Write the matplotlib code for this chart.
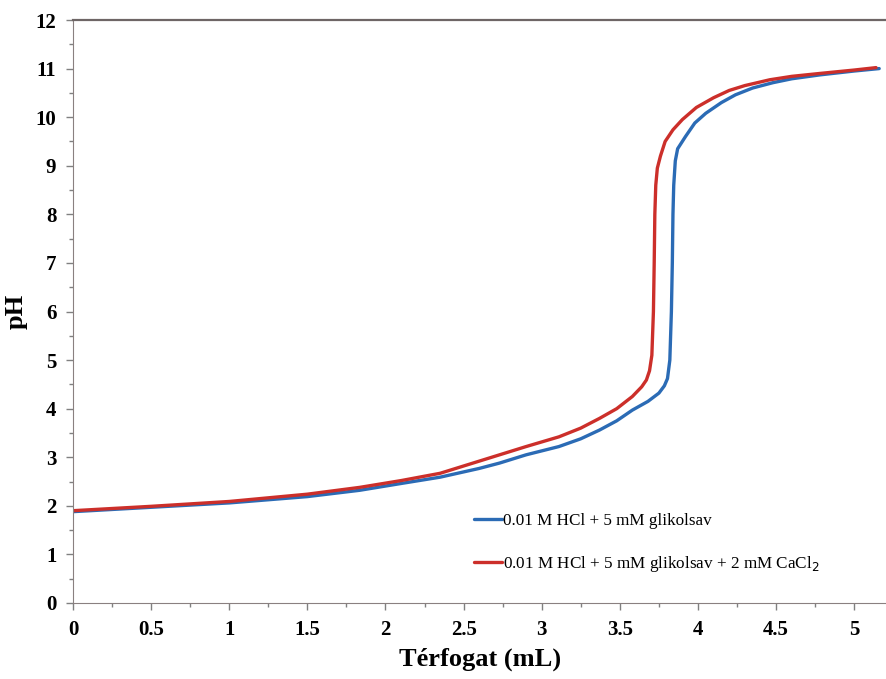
import matplotlib
matplotlib.use("Agg")
import matplotlib.pyplot as plt
from matplotlib.ticker import MultipleLocator

plt.rcParams['font.family'] = ['Liberation Serif', 'DejaVu Serif']

# Blue series: 0.01 M HCl + 5 mM glikolsav
blue_x = [0, 0.5, 1.0, 1.5, 1.835, 2.1, 2.35, 2.6, 2.73, 2.9, 3.11, 3.25, 3.37, 3.48,
          3.58, 3.68, 3.75, 3.785, 3.805, 3.82, 3.83, 3.836, 3.84, 3.845, 3.855, 3.87,
          3.92, 3.98, 4.05, 4.15, 4.24, 4.35, 4.48, 4.6, 4.78, 5.0, 5.16]
blue_ph = [1.88, 1.97, 2.06, 2.19, 2.32, 2.46, 2.59, 2.77, 2.88, 3.05, 3.22, 3.38, 3.56, 3.75,
           3.97, 4.15, 4.32, 4.47, 4.62, 5.0, 6.0, 7.0, 8.0, 8.6, 9.1, 9.35,
           9.6, 9.88, 10.08, 10.3, 10.46, 10.6, 10.71, 10.79, 10.87, 10.95, 11.0]

# Red series: 0.01 M HCl + 5 mM glikolsav + 2 mM CaCl2
red_x = [0, 0.5, 1.0, 1.5, 1.835, 2.1, 2.35, 2.6, 2.73, 2.9, 3.11, 3.25, 3.37, 3.48,
         3.58, 3.64, 3.67, 3.69, 3.705, 3.715, 3.72, 3.724, 3.73, 3.74, 3.76, 3.79,
         3.84, 3.9, 3.99, 4.1, 4.2, 4.3, 4.46, 4.6, 4.78, 5.0, 5.14]
red_ph = [1.90, 1.99, 2.09, 2.24, 2.38, 2.52, 2.67, 2.92, 3.05, 3.22, 3.42, 3.6, 3.80, 4.0,
          4.25, 4.45, 4.59, 4.78, 5.1, 6.0, 7.0, 8.0, 8.6, 8.95, 9.2, 9.5,
          9.74, 9.95, 10.2, 10.4, 10.55, 10.65, 10.77, 10.84, 10.9, 10.97, 11.02]

labels = ["0.01 M HCl + 5 mM glikolsav",
          "0.01 M HCl + 5 mM glikolsav + 2 mM CaCl$_2$"]
x_ticks = [0, 0.5, 1, 1.5, 2, 2.5, 3, 3.5, 4, 4.5, 5]
x_tick_labels = ["0", "0.5", "1", "1.5", "2", "2.5", "3", "3.5", "4", "4.5", "5"]
y_ticks = list(range(0, 13))

fig = plt.figure(figsize=(8.87, 6.79), dpi=100)
ax = fig.add_axes([73/887, 1-603/679, 1-73/887, (603-20)/679])

ax.plot(blue_x, blue_ph, color='#2B6BB5', lw=2.4, label=labels[0], solid_capstyle='round')
ax.plot(red_x, red_ph, color='#CC2F2A', lw=2.4, label=labels[1], solid_capstyle='round')

ax.set_xlim(0, 5.21)
ax.set_ylim(0, 12)
ax.set_xticks(x_ticks)
ax.set_xticklabels(x_tick_labels)
ax.set_yticks(y_ticks)
ax.xaxis.set_minor_locator(MultipleLocator(0.25))
ax.yaxis.set_minor_locator(MultipleLocator(0.5))
ax.tick_params(axis='both', which='major', direction='out', length=5, width=1,
               color='#808080', labelsize=15, pad=7)
ax.tick_params(axis='both', which='minor', direction='out', length=3, width=1, color='#808080')
for lab in ax.get_xticklabels() + ax.get_yticklabels():
    lab.set_fontweight('bold')

ax.spines['right'].set_visible(False)
ax.spines['left'].set_color('#8a8080')
ax.spines['bottom'].set_color('#8a8080')
ax.spines['top'].set_color('#6e6666')
ax.spines['top'].set_linewidth(1.6)

ax.set_xlabel("Térfogat (mL)", fontsize=19, fontweight='bold', labelpad=6)
ax.set_ylabel("pH", fontsize=19, fontweight='bold', labelpad=6)

leg = ax.legend(loc='upper left', bbox_to_anchor=(0.474, 0.18), frameon=False,
                fontsize=12.3, handlelength=1.6, handletextpad=0.1, labelspacing=1.45)

fig.savefig("out.png", dpi=100)
